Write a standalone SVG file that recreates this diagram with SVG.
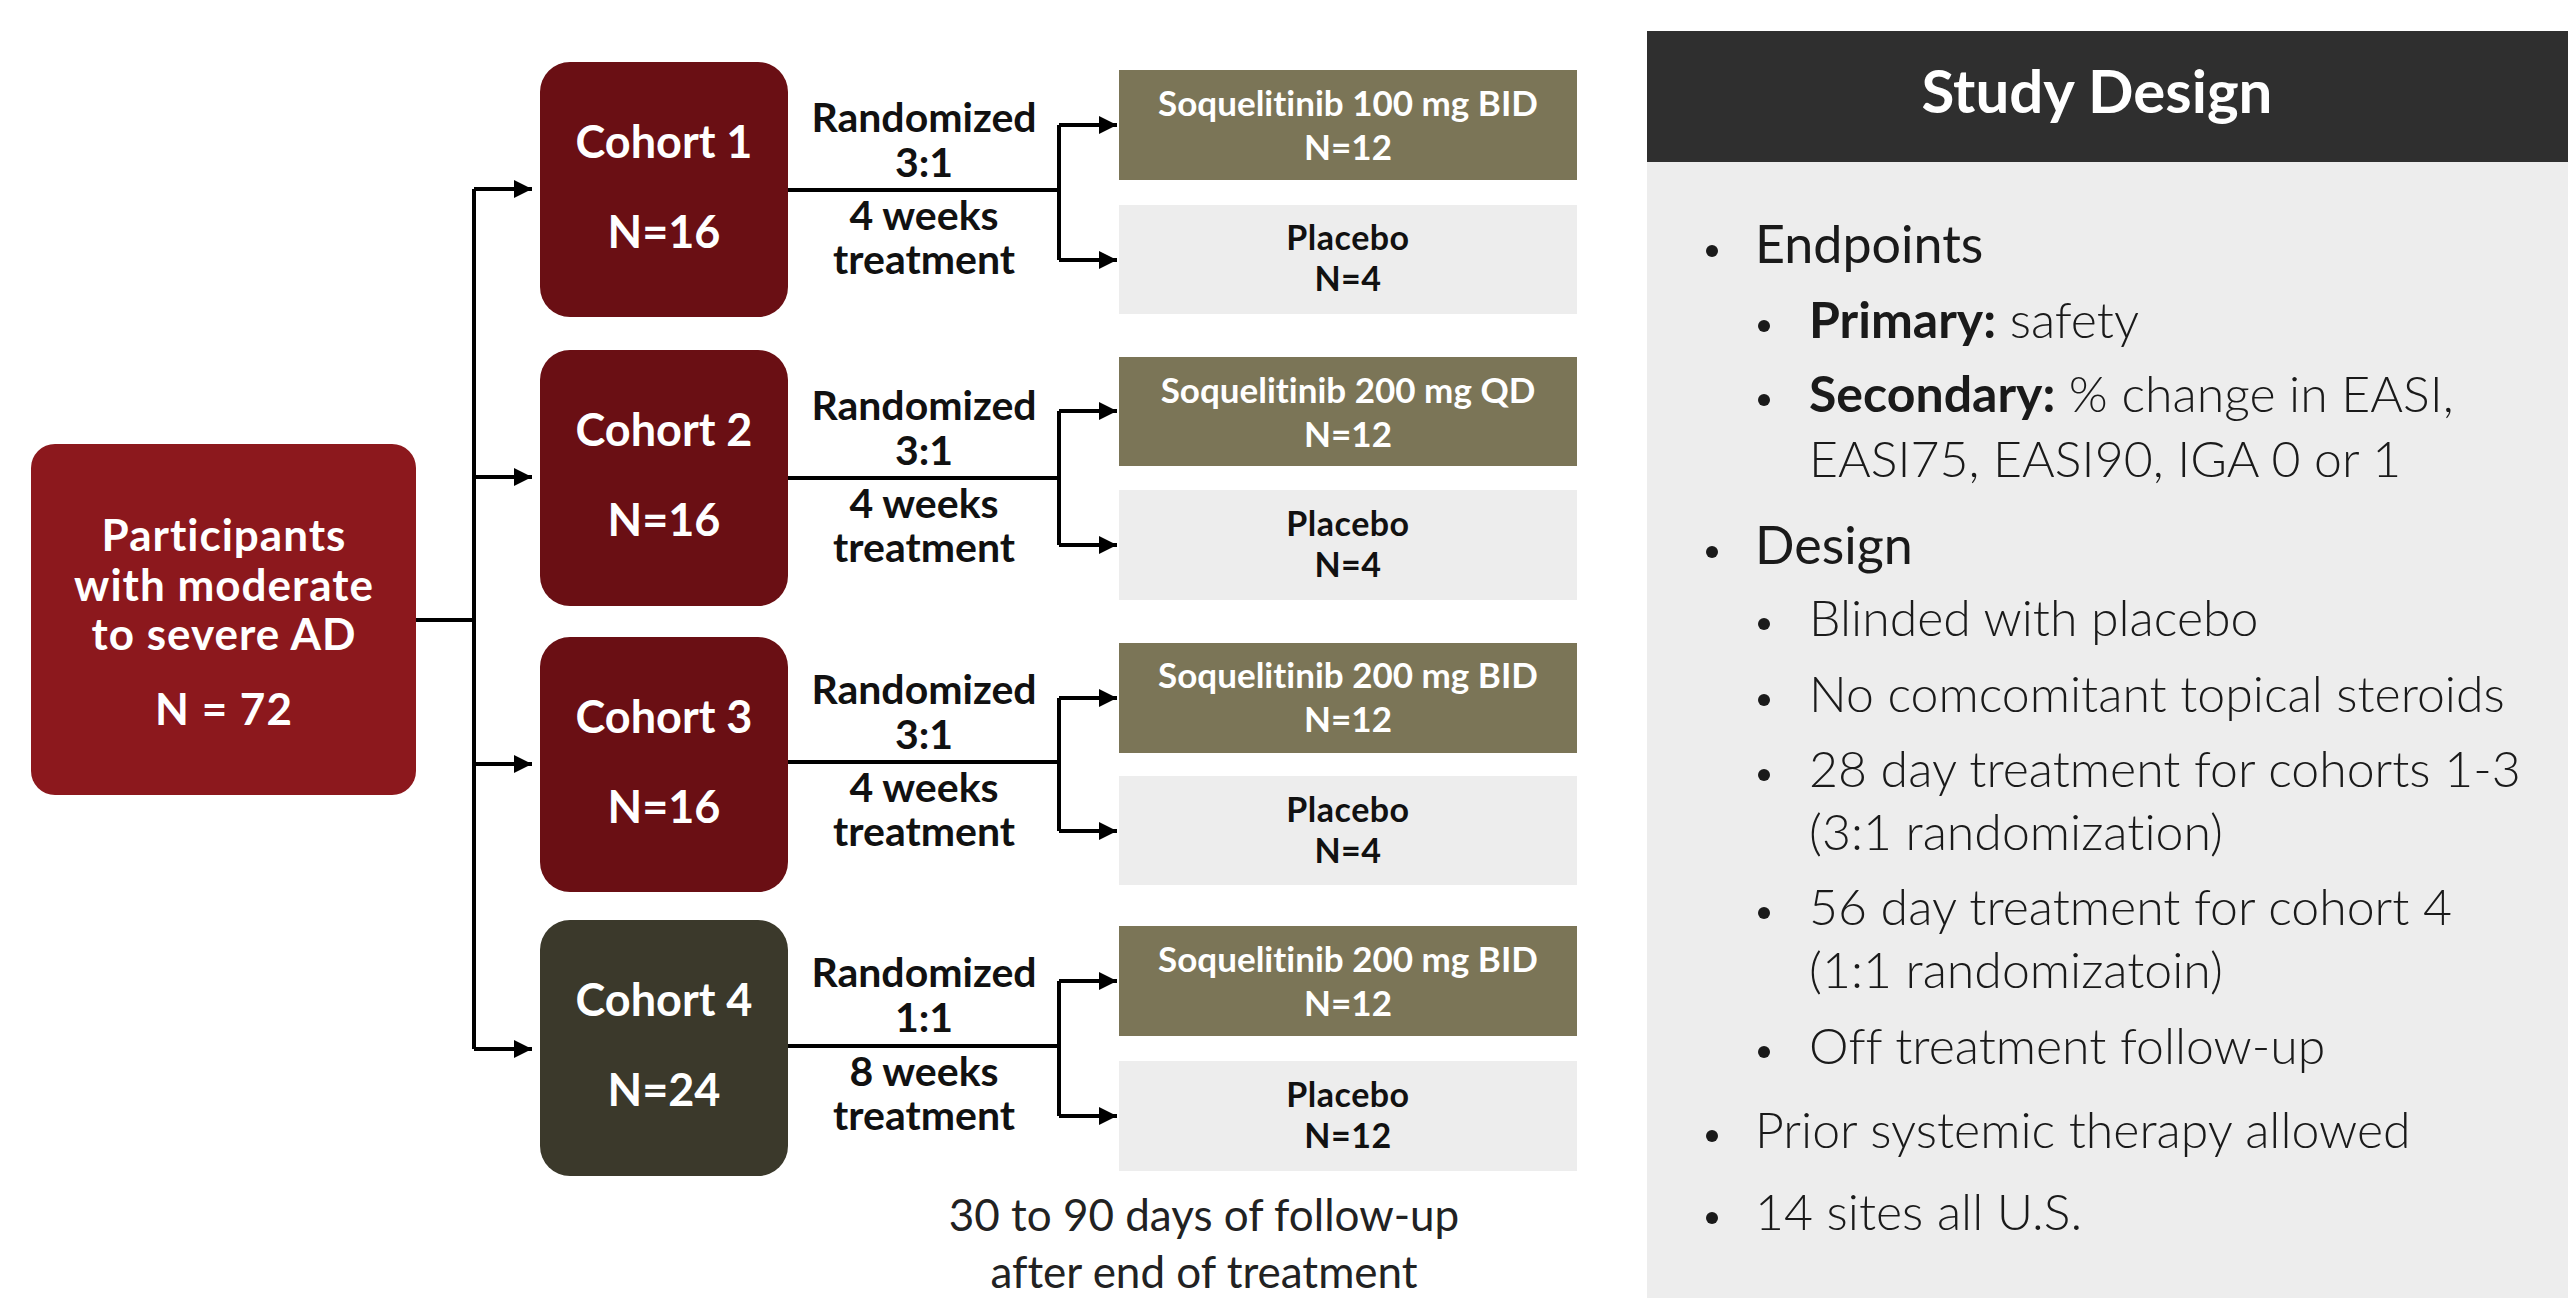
<svg xmlns="http://www.w3.org/2000/svg" width="2568" height="1298" viewBox="0 0 2568 1298">
<defs>
<marker id="ah" markerUnits="userSpaceOnUse" markerWidth="20" markerHeight="18" refX="18" refY="9" orient="auto">
<path d="M0,0 L18,9 L0,18 Z" fill="#000"/>
</marker>
<style>
text{font-variant-ligatures:none}
.wb{font-family:Lato,"Open Sans",sans-serif;font-weight:700;fill:#fff;text-anchor:middle}
.db{font-family:Lato,"Open Sans",sans-serif;font-weight:700;fill:#111;text-anchor:middle}
.cohort{font-size:45px}
.mid{font-size:41px}
.par{font-size:44px;letter-spacing:1px}
.arm{font-size:35px}
.parm{font-size:34px;letter-spacing:0.5px}
.foll{font-family:Lato,"Open Sans",sans-serif;font-weight:400;fill:#222;text-anchor:middle;font-size:44px}
.sq{fill:#7B7557}
.pl{fill:#EDEDED}
.rd{fill:#6A0F14}
.pt{font-family:Lato,"Open Sans",sans-serif;fill:#1a1a1a;font-size:50px}
.lt{font-weight:300}
.rg{font-weight:400;font-size:52px}
.bd{font-weight:700}
.bul{fill:#1a1a1a}
.conn path{fill:none;stroke:#000;stroke-width:4}
</style>
</defs>
<rect width="2568" height="1298" fill="#fff"/>

<g id="participants">
<rect x="31" y="444" width="385" height="351" rx="24" fill="#8C181D"/>
<text class="wb par" x="224" y="551">Participants</text>
<text class="wb par" x="224" y="601">with moderate</text>
<text class="wb par" x="224" y="650">to severe AD</text>
<text class="wb par" x="224" y="725">N = 72</text>
</g>

<g id="cohort1">
<rect class="rd" x="540" y="62" width="248" height="255" rx="30"/>
<text class="wb cohort" x="664" y="158">Cohort 1</text>
<text class="wb cohort" x="664" y="248">N=16</text>
</g>
<g id="cohort2">
<rect class="rd" x="540" y="350" width="248" height="256" rx="30"/>
<text class="wb cohort" x="664" y="446">Cohort 2</text>
<text class="wb cohort" x="664" y="536">N=16</text>
</g>
<g id="cohort3">
<rect class="rd" x="540" y="637" width="248" height="255" rx="30"/>
<text class="wb cohort" x="664" y="733">Cohort 3</text>
<text class="wb cohort" x="664" y="823">N=16</text>
</g>
<g id="cohort4">
<rect x="540" y="920" width="248" height="256" rx="30" fill="#3B392B"/>
<text class="wb cohort" x="664" y="1016">Cohort 4</text>
<text class="wb cohort" x="664" y="1106">N=24</text>
</g>

<g id="label1">
<text class="db mid" x="924" y="132">Randomized</text>
<text class="db mid" x="924" y="177">3:1</text>
<text class="db mid" x="924" y="230">4 weeks</text>
<text class="db mid" x="924" y="274">treatment</text>
</g>
<g id="label2">
<text class="db mid" x="924" y="420">Randomized</text>
<text class="db mid" x="924" y="465">3:1</text>
<text class="db mid" x="924" y="518">4 weeks</text>
<text class="db mid" x="924" y="562">treatment</text>
</g>
<g id="label3">
<text class="db mid" x="924" y="704">Randomized</text>
<text class="db mid" x="924" y="749">3:1</text>
<text class="db mid" x="924" y="802">4 weeks</text>
<text class="db mid" x="924" y="846">treatment</text>
</g>
<g id="label4">
<text class="db mid" x="924" y="987">Randomized</text>
<text class="db mid" x="924" y="1032">1:1</text>
<text class="db mid" x="924" y="1086">8 weeks</text>
<text class="db mid" x="924" y="1130">treatment</text>
</g>

<g id="soq1">
<rect class="sq" x="1119" y="70" width="458" height="110"/>
<text class="wb arm" x="1348" y="116">Soquelitinib 100 mg BID</text>
<text class="wb arm" x="1348" y="160">N=12</text>
</g>
<g id="placebo1">
<rect class="pl" x="1119" y="205" width="458" height="109"/>
<text class="db parm" x="1348" y="250">Placebo</text>
<text class="db parm" x="1348" y="291">N=4</text>
</g>
<g id="soq2">
<rect class="sq" x="1119" y="357" width="458" height="109"/>
<text class="wb arm" x="1348" y="403">Soquelitinib 200 mg QD</text>
<text class="wb arm" x="1348" y="447">N=12</text>
</g>
<g id="placebo2">
<rect class="pl" x="1119" y="490" width="458" height="110"/>
<text class="db parm" x="1348" y="536">Placebo</text>
<text class="db parm" x="1348" y="577">N=4</text>
</g>
<g id="soq3">
<rect class="sq" x="1119" y="643" width="458" height="110"/>
<text class="wb arm" x="1348" y="688">Soquelitinib 200 mg BID</text>
<text class="wb arm" x="1348" y="732">N=12</text>
</g>
<g id="placebo3">
<rect class="pl" x="1119" y="776" width="458" height="109"/>
<text class="db parm" x="1348" y="822">Placebo</text>
<text class="db parm" x="1348" y="863">N=4</text>
</g>
<g id="soq4">
<rect class="sq" x="1119" y="926" width="458" height="110"/>
<text class="wb arm" x="1348" y="972">Soquelitinib 200 mg BID</text>
<text class="wb arm" x="1348" y="1016">N=12</text>
</g>
<g id="placebo4">
<rect class="pl" x="1119" y="1061" width="458" height="110"/>
<text class="db parm" x="1348" y="1107">Placebo</text>
<text class="db parm" x="1348" y="1148">N=12</text>
</g>

<g id="followup">
<text class="foll" x="1204" y="1231">30 to 90 days of follow-up</text>
<text class="foll" x="1204" y="1288">after end of treatment</text>
</g>

<g class="conn" id="connectors">
<path d="M416,620 H474"/>
<path d="M474,189 V1049"/>
<path d="M474,189 H532" marker-end="url(#ah)"/>
<path d="M474,477 H532" marker-end="url(#ah)"/>
<path d="M474,764 H532" marker-end="url(#ah)"/>
<path d="M474,1049 H532" marker-end="url(#ah)"/>
<path d="M788,190 H1059"/>
<path d="M1059,125 V260"/>
<path d="M1059,125 H1117" marker-end="url(#ah)"/>
<path d="M1059,260 H1117" marker-end="url(#ah)"/>
<path d="M788,478 H1059"/>
<path d="M1059,411 V545"/>
<path d="M1059,411 H1117" marker-end="url(#ah)"/>
<path d="M1059,545 H1117" marker-end="url(#ah)"/>
<path d="M788,762 H1059"/>
<path d="M1059,698 V831"/>
<path d="M1059,698 H1117" marker-end="url(#ah)"/>
<path d="M1059,831 H1117" marker-end="url(#ah)"/>
<path d="M788,1046 H1059"/>
<path d="M1059,981 V1116"/>
<path d="M1059,981 H1117" marker-end="url(#ah)"/>
<path d="M1059,1116 H1117" marker-end="url(#ah)"/>
</g>

<g id="study-design">
<rect x="1647" y="162" width="921" height="1136" fill="#EDEDED"/>
<rect x="1647" y="31" width="921" height="131" fill="#2F2F2F"/>
<text class="wb" x="2097" y="113" style="font-size:60px">Study Design</text>
<circle class="bul" cx="1712" cy="251" r="6"/>
<text class="pt rg" x="1755" y="263">Endpoints</text>
<circle class="bul" cx="1764" cy="326" r="6"/>
<text class="pt" x="1809" y="338"><tspan class="bd">Primary:</tspan><tspan class="lt"> safety</tspan></text>
<circle class="bul" cx="1764" cy="400" r="6"/>
<text class="pt" x="1809" y="412"><tspan class="bd">Secondary:</tspan><tspan class="lt"> % change in EASI,</tspan></text>
<text class="pt lt" x="1809" y="477">EASI75, EASI90, IGA 0 or 1</text>
<circle class="bul" cx="1712" cy="552" r="6"/>
<text class="pt rg" x="1755" y="564">Design</text>
<circle class="bul" cx="1764" cy="624" r="6"/>
<text class="pt lt" x="1809" y="636">Blinded with placebo</text>
<circle class="bul" cx="1764" cy="700" r="6"/>
<text class="pt lt" x="1809" y="712">No comcomitant topical steroids</text>
<circle class="bul" cx="1764" cy="775" r="6"/>
<text class="pt lt" x="1809" y="787">28 day treatment for cohorts 1-3</text>
<text class="pt lt" x="1809" y="850">(3:1 randomization)</text>
<circle class="bul" cx="1764" cy="913" r="6"/>
<text class="pt lt" x="1809" y="925">56 day treatment for cohort 4</text>
<text class="pt lt" x="1809" y="988">(1:1 randomizatoin)</text>
<circle class="bul" cx="1764" cy="1052" r="6"/>
<text class="pt lt" x="1809" y="1064">Off treatment follow-up</text>
<circle class="bul" cx="1712" cy="1136" r="6"/>
<text class="pt lt" x="1755" y="1148">Prior systemic therapy allowed</text>
<circle class="bul" cx="1712" cy="1218" r="6"/>
<text class="pt lt" x="1755" y="1230">14 sites all U.S.</text>
</g>
</svg>
